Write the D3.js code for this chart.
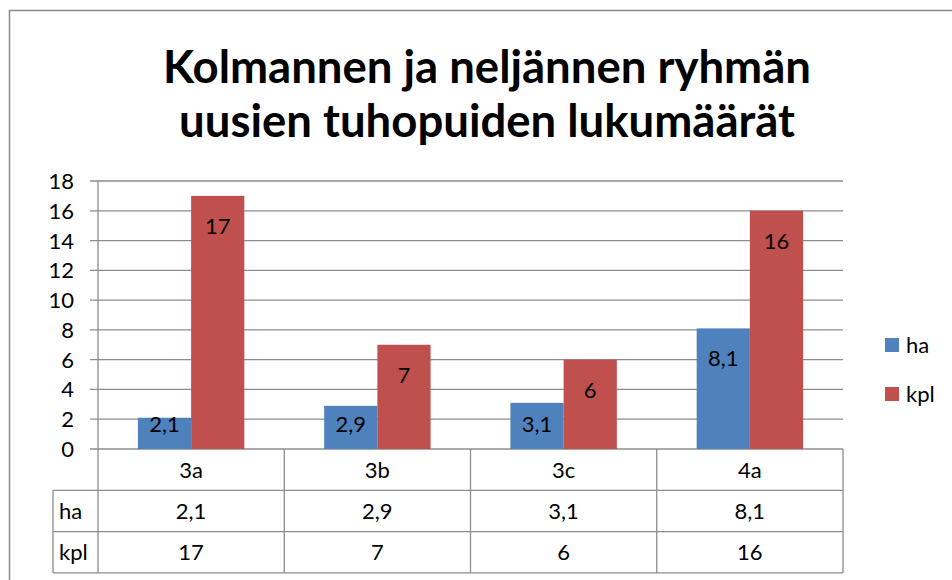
<!DOCTYPE html>
<html>
<head>
<meta charset="utf-8">
<script src="https://cdn.jsdelivr.net/npm/d3@7"></script>
<style>
  body { margin: 0; background: #fff; }
  text { font-family: Lato, "Open Sans", sans-serif; fill: #000; }
</style>
</head>
<body>
<script>
// data
var categories = ['3a', '3b', '3c', '4a'];
var seriesNames = ['ha', 'kpl'];
var haValues = [2.1, 2.9, 3.1, 8.1];
var kplValues = [17, 7, 6, 16];
var yTicks = [0, 2, 4, 6, 8, 10, 12, 14, 16, 18];
var titleLines = ['Kolmannen ja neljännen ryhmän', 'uusien tuhopuiden lukumäärät'];

var colors = { ha: '#4f81bd', kpl: '#c0504d' };
var gridColor = '#8c8c8c';

var svgWidth = 952;
var svgHeight = 580;

var plot = { left: 98, right: 843, top: 181, bottom: 449 };
var rowHeight = 41.3;
var tableLeft = 53;

var fmt = v => String(v).replace('.', ',');

var svg = d3.select('body')
    .append('svg')
    .attr('width', svgWidth)
    .attr('height', svgHeight);

svg.append('rect')
    .attr('width', svgWidth)
    .attr('height', svgHeight)
    .attr('fill', '#fff');

// outer chart border (runs off right/bottom)
svg.append('rect')
    .attr('x', 9.5)
    .attr('y', 10.5)
    .attr('width', 1000)
    .attr('height', 700)
    .attr('fill', 'none')
    .attr('stroke', '#8a8a8a')
    .attr('stroke-width', 1.5);

// title
svg.append('g').selectAll('text')
    .data(titleLines)
    .enter()
    .append('text')
    .attr('x', 487)
    .attr('y', (d, i) => 83 + i * 54)
    .attr('text-anchor', 'middle')
    .attr('font-size', '45.5px')
    .attr('font-weight', 'bold')
    .text(d => d);

// scales
var x0 = d3.scaleBand()
    .domain(categories)
    .range([plot.left, plot.right]);

var x1 = d3.scaleBand()
    .domain(seriesNames)
    .range([0, x0.bandwidth()])
    .paddingOuter(0.75);

var y = d3.scaleLinear()
    .domain([0, 18])
    .range([plot.bottom, plot.top]);

// gridlines + ticks
var grid = svg.append('g')
    .attr('stroke', gridColor)
    .attr('stroke-width', 1.3);

grid.selectAll('line')
    .data(yTicks)
    .enter()
    .append('line')
    .attr('x1', plot.left - 8)
    .attr('x2', plot.right)
    .attr('y1', d => y(d))
    .attr('y2', d => y(d));

svg.append('g').selectAll('text')
    .data(yTicks)
    .enter()
    .append('text')
    .attr('x', 74)
    .attr('y', d => y(d) + 8)
    .attr('text-anchor', 'end')
    .attr('font-size', '22px')
    .text(d => d);

// bars
var rows = categories.map((c, i) => ({ cat: c, ha: haValues[i], kpl: kplValues[i] }));

var groups = svg.append('g').selectAll('g')
    .data(rows)
    .enter()
    .append('g')
    .attr('transform', d => `translate(${x0(d.cat)},0)`);

var bars = groups.selectAll('g')
    .data(d => seriesNames.map(s => ({ key: s, value: d[s] })))
    .enter()
    .append('g');

bars.append('rect')
    .attr('x', d => x1(d.key))
    .attr('y', d => y(d.value))
    .attr('width', x1.bandwidth())
    .attr('height', d => y(0) - y(d.value))
    .attr('fill', d => colors[d.key]);

// labels: inside end, kept above the axis
bars.append('text')
    .attr('x', d => x1(d.key) + x1.bandwidth() / 2)
    .attr('y', d => Math.min(y(d.value) + 30, y(0) - 25) + 8)
    .attr('text-anchor', 'middle')
    .attr('font-size', '22px')
    .text(d => fmt(d.value));

// data table
var table = svg.append('g')
    .attr('stroke', gridColor)
    .attr('stroke-width', 1.3);

var tableBottom = plot.bottom + rowHeight * 3;

// y axis line through the table
table.append('line')
    .attr('x1', plot.left).attr('x2', plot.left)
    .attr('y1', plot.top).attr('y2', tableBottom);

// column dividers
table.selectAll('.col')
    .data(categories.slice(1))
    .enter()
    .append('line')
    .attr('x1', d => x0(d)).attr('x2', d => x0(d))
    .attr('y1', plot.bottom).attr('y2', tableBottom);

table.append('line')
    .attr('x1', plot.right).attr('x2', plot.right)
    .attr('y1', plot.bottom).attr('y2', tableBottom);

table.append('line')
    .attr('x1', tableLeft).attr('x2', tableLeft)
    .attr('y1', plot.bottom + rowHeight).attr('y2', tableBottom);

// row lines
[1, 2, 3].forEach(i => {
    table.append('line')
        .attr('x1', tableLeft).attr('x2', plot.right)
        .attr('y1', plot.bottom + rowHeight * i)
        .attr('y2', plot.bottom + rowHeight * i);
});

// table text
var rowCenter = i => plot.bottom + rowHeight * (i + 0.5) + 8;

svg.append('g').selectAll('text')
    .data(categories)
    .enter()
    .append('text')
    .attr('x', d => x0(d) + x0.bandwidth() / 2)
    .attr('y', rowCenter(0))
    .attr('text-anchor', 'middle')
    .attr('font-size', '22px')
    .text(d => d);

var seriesValues = [haValues, kplValues];
seriesNames.forEach((s, si) => {
    svg.append('text')
        .attr('x', tableLeft + 6)
        .attr('y', rowCenter(si + 1))
        .attr('font-size', '22px')
        .text(s);

    svg.append('g').selectAll('text')
        .data(seriesValues[si])
        .enter()
        .append('text')
        .attr('x', (d, i) => x0(categories[i]) + x0.bandwidth() / 2)
        .attr('y', rowCenter(si + 1))
        .attr('text-anchor', 'middle')
        .attr('font-size', '22px')
        .text(d => fmt(d));
});

// legend
var legend = svg.append('g').selectAll('g')
    .data(seriesNames)
    .enter()
    .append('g')
    .attr('transform', (d, i) => `translate(885,${338 + i * 49})`);

legend.append('rect')
    .attr('width', 14)
    .attr('height', 14)
    .attr('fill', d => colors[d]);

legend.append('text')
    .attr('x', 21)
    .attr('y', 15)
    .attr('font-size', '22px')
    .text(d => d);
</script>
</body>
</html>
